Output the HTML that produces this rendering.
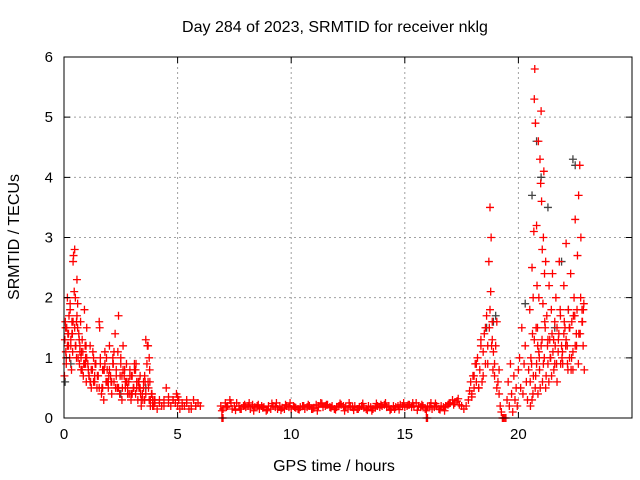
<!DOCTYPE html>
<html><head><meta charset="utf-8"><style>
html,body{margin:0;padding:0;background:#fff}
svg{display:block;font-family:"Liberation Sans",sans-serif}
</style></head><body>
<svg id="chart" width="640" height="480">
<text x="335" y="32" font-size="16" text-anchor="middle">Day 284 of 2023, SRMTID for receiver nklg</text>
<text x="334" y="471" font-size="16" text-anchor="middle">GPS time / hours</text>
<text x="19" y="237" font-size="16" text-anchor="middle" transform="rotate(-90 19 237)">SRMTID / TECUs</text>
<g id="grid"></g><g id="marks"></g>
<rect x="64" y="57" width="568" height="361" fill="none" stroke="#000" stroke-width="1"/>
<g id="ticks"></g>
</svg>
<script>
const xTicks=[0,5,10,15,20];
const yTicks=[0,1,2,3,4,5,6];
const earlyT=[0.02,0.04,0.06,0.08,0.1,0.12,0.15,0.17,0.2,0.22,0.25,0.27,0.3,0.33,0.35,0.38,0.4,0.42,0.45,0.47,0.5,0.52,0.55,0.57,0.6,0.62,0.65,0.68,0.7,0.73,0.75,0.78,0.8,0.83,0.85,0.88,0.9,0.93,0.95,0.98,1.0,1.05,1.1,1.15,1.2,1.25,1.3,1.35,1.4,1.45,1.5,1.55,1.6,1.65,1.7,1.75,1.8,1.85,1.9,1.95,2.0,2.05,2.1,2.15,2.2,2.25,2.3,2.35,2.4,2.45,2.5,2.55,2.6,2.65,2.7,2.75,2.8,2.85,2.9,2.95,3.0,3.05,3.1,3.15,3.2,3.25,3.3,3.35,3.4,3.45,3.5,3.55,3.6,3.65,3.7,3.72,3.75,3.78,3.8,3.85,3.9,3.95,4.0,4.1,4.2,4.3,4.4,4.5,4.6,4.7,4.8,4.9,4.95,5.0,5.05,5.1,5.2,5.3,5.4,5.5,5.6,5.7,5.8,5.9,6.0];
const earlyV=[0.7,1.3,1.6,1.1,0.9,1.5,2.0,1.4,1.2,1.7,1.0,1.9,1.3,0.8,1.6,1.1,2.6,2.7,2.1,1.5,2.0,1.2,1.6,2.3,1.9,1.0,1.4,0.9,1.2,1.6,1.0,0.8,1.3,1.1,0.7,0.9,1.8,1.2,1.0,0.6,1.5,0.9,0.7,1.2,0.5,0.8,1.0,0.6,0.9,0.5,0.7,1.6,0.9,0.4,0.8,0.3,1.1,0.6,0.8,0.5,1.2,0.7,0.4,1.0,0.6,1.4,0.8,0.5,1.7,0.4,0.9,0.3,1.2,0.7,0.5,0.9,0.4,0.6,0.8,0.3,0.7,0.5,0.9,0.4,0.6,0.3,0.5,0.7,0.2,0.4,0.6,0.3,1.3,0.9,1.2,0.5,0.3,0.6,0.2,0.4,0.3,0.2,0.3,0.15,0.25,0.2,0.3,0.5,0.35,0.2,0.3,0.25,0.4,0.2,0.3,0.15,0.25,0.2,0.3,0.15,0.2,0.3,0.2,0.25,0.2];
const early2T=[0.1,0.2,0.3,0.4,0.5,0.6,0.7,0.8,0.9,1.0,1.1,1.2,1.3,1.4,1.5,1.6,1.7,1.8,1.9,2.0,2.1,2.2,2.3,2.4,2.5,2.6,2.7,2.8,2.9,3.0,3.1,3.2,3.3,3.4,3.5,3.6,3.7,3.8,3.9,4.0,4.2,4.4,4.6,4.8,5.0,5.2,5.4,5.6,5.8];
const early2V=[1.0,1.4,1.2,1.6,1.2,1.5,1.1,0.8,0.9,1.0,0.7,0.8,0.6,0.9,0.7,1.0,0.5,0.9,0.6,0.8,0.6,1.1,0.7,0.5,1.0,0.8,0.6,0.5,0.7,0.4,0.8,0.5,0.6,0.3,0.5,0.4,0.6,0.3,0.2,0.25,0.3,0.2,0.25,0.3,0.35,0.2,0.25,0.15,0.2];
const early3T=[0.15,0.35,0.55,0.75,0.95,1.15,1.35,1.55,1.75,1.95,2.15,2.35,2.55,2.75,2.95,3.15,3.35,3.55,3.75];
const early3V=[1.2,1.4,1.0,0.8,0.9,0.6,0.7,0.5,0.8,0.6,0.9,0.5,0.7,0.6,0.4,0.8,0.5,0.7,1.0];
const early4T=[0.07,0.17,0.27,0.37,0.47,0.57,0.67,0.77,0.87,0.97,1.07,1.17,1.27,1.37,1.47,1.57,1.67,1.77,1.87,1.97,2.07,2.17,2.27,2.37,2.47,2.57,2.67,2.77,2.87,2.97,3.07,3.17,3.27,3.37,3.47,3.57,3.67,3.77,3.87,3.97];
const early4V=[1.5,1.2,1.8,1.4,2.8,1.7,1.3,1.1,0.9,1.2,0.8,0.6,1.1,0.9,0.7,1.5,0.5,0.8,1.0,0.7,0.6,0.9,0.5,1.1,0.7,0.5,0.8,0.6,0.4,0.7,0.5,0.9,0.6,0.4,0.3,0.6,1.2,0.8,0.4,0.3];
const quietT=[6.9,7.0,7.1,7.2,7.3,7.4,7.5,7.6,7.7,7.8,7.9,8.0,8.1,8.2,8.3,8.4,8.5,8.6,8.7,8.8,8.9,9.0,9.1,9.2,9.3,9.4,9.5,9.6,9.7,9.8,9.9,10.0,10.1,10.2,10.3,10.4,10.5,10.6,10.7,10.8,10.9,11.0,11.1,11.2,11.3,11.4,11.5,11.6,11.7,11.8,11.9,12.0,12.1,12.2,12.3,12.4,12.5,12.6,12.7,12.8,12.9,13.0,13.1,13.2,13.3,13.4,13.5,13.6,13.7,13.8,13.9,14.0,14.1,14.2,14.3,14.4,14.5,14.6,14.7,14.8,14.9,15.0,15.1,15.2,15.3,15.4,15.5,15.6,15.7,15.8,15.9,16.0,16.1,16.2,16.3,16.4,16.5,16.6,16.7,16.8,16.9,17.0,17.1,17.2,17.3,17.4];
const quietV=[0.2,0.15,0.25,0.2,0.3,0.15,0.2,0.25,0.2,0.15,0.2,0.18,0.2,0.15,0.22,0.18,0.2,0.15,0.2,0.18,0.12,0.2,0.15,0.2,0.18,0.15,0.2,0.17,0.15,0.2,0.18,0.15,0.2,0.17,0.15,0.18,0.2,0.15,0.18,0.2,0.15,0.17,0.22,0.2,0.25,0.18,0.2,0.22,0.18,0.2,0.15,0.18,0.2,0.22,0.2,0.18,0.15,0.2,0.18,0.2,0.15,0.18,0.2,0.17,0.15,0.2,0.18,0.15,0.17,0.2,0.18,0.2,0.22,0.18,0.2,0.15,0.2,0.18,0.2,0.22,0.2,0.18,0.2,0.22,0.18,0.2,0.25,0.2,0.18,0.2,0.15,0.18,0.2,0.15,0.18,0.2,0.15,0.2,0.18,0.2,0.22,0.25,0.3,0.25,0.28,0.22];
const quiet2T=[6.95,7.15,7.35,7.55,7.75,7.95,8.15,8.35,8.55,8.75,8.95,9.15,9.35,9.55,9.75,9.95,10.15,10.35,10.55,10.75,10.95,11.15,11.35,11.55,11.75,11.95,12.15,12.35,12.55,12.75,12.95,13.15,13.35,13.55,13.75,13.95,14.15,14.35,14.55,14.75,14.95,15.15,15.35,15.55,15.75,15.95,16.15,16.35,16.55,16.75,16.95,17.15,17.35];
const quiet2V=[0.12,0.18,0.25,0.13,0.15,0.22,0.25,0.12,0.22,0.17,0.14,0.24,0.25,0.13,0.22,0.25,0.18,0.14,0.2,0.22,0.15,0.12,0.24,0.22,0.17,0.14,0.24,0.12,0.25,0.13,0.15,0.24,0.13,0.12,0.24,0.22,0.25,0.13,0.15,0.14,0.25,0.22,0.25,0.13,0.22,0.12,0.25,0.24,0.14,0.12,0.24,0.22,0.32];
const riseT=[17.5,17.6,17.7,17.8,17.85,17.9,17.95,18.0,18.05,18.1,18.15,18.2,18.25,18.3,18.35,18.4,18.45,18.5,18.55,18.6,18.65,18.7,18.72,18.75,18.78,18.8,18.82,18.85,18.88,18.9,18.95,19.0,19.05,19.1,19.15,19.2,19.25,19.3];
const riseV=[0.2,0.15,0.2,0.3,0.45,0.6,0.35,0.7,0.5,0.9,0.6,1.0,0.5,0.8,1.3,0.6,1.1,1.4,0.9,1.7,1.2,2.6,1.5,3.5,2.1,3.0,1.2,1.6,0.8,1.1,0.7,1.2,0.5,0.6,0.4,0.2,0.1,0.0];
const rise2T=[17.95,18.05,18.15,18.25,18.35,18.45,18.55,18.65,18.75,18.85,18.95,19.05,19.15];
const rise2V=[0.4,0.7,0.9,0.5,1.2,0.7,1.5,0.9,1.8,1.3,0.9,1.6,0.8];
const gapT=[19.5,19.55,19.6,19.65,19.7,19.75,19.8,19.85,19.9,19.95,20.0,20.05,20.1,20.15,20.2,20.25,20.3,20.35,20.4,20.45];
const gapV=[0.3,0.6,0.2,0.9,0.4,0.1,0.7,0.3,0.5,0.2,0.8,1.0,0.5,1.5,0.4,0.9,1.2,0.6,0.3,0.8];
const stormT=[20.5,20.55,20.6,20.62,20.65,20.68,20.7,20.72,20.75,20.78,20.8,20.82,20.85,20.88,20.9,20.92,20.95,20.98,21.0,21.02,21.05,21.08,21.1,21.12,21.15,21.18,21.2,21.25,21.3,21.35,21.4,21.45,21.5,21.55,21.6,21.65,21.7,21.75,21.8,21.85,21.9,21.95,22.0,22.05,22.1,22.15,22.2,22.25,22.3,22.35,22.4,22.45,22.5,22.55,22.6,22.65,22.7,22.75,22.8,22.85,22.9];
const stormV=[1.8,1.0,2.5,1.4,2.0,3.1,5.3,5.8,4.9,1.5,3.2,2.2,1.2,4.6,2.0,1.0,4.3,3.9,5.1,3.6,2.8,1.9,3.0,4.1,2.4,1.5,2.6,1.7,1.3,2.2,1.0,1.8,2.4,1.3,0.9,2.0,1.5,1.1,2.6,1.7,1.2,0.9,2.2,1.5,2.9,1.2,1.8,1.0,2.4,1.6,0.8,2.0,3.3,1.4,2.7,3.7,4.2,3.0,1.8,1.2,0.8];
const storm2T=[20.52,20.58,20.64,20.7,20.76,20.84,20.9,20.96,21.04,21.1,21.16,21.22,21.28,21.34,21.42,21.48,21.56,21.62,21.7,21.78,21.86,21.94,22.02,22.1,22.18,22.26,22.34,22.42,22.5,22.58,22.66,22.74,22.82,22.88];
const storm2V=[0.6,0.9,0.4,1.3,0.7,1.5,1.1,0.5,1.3,0.9,1.6,0.7,1.2,0.6,1.0,1.4,0.8,1.2,0.6,1.4,0.9,1.1,1.6,1.3,0.8,1.5,1.0,1.7,1.2,1.8,1.4,2.0,1.6,1.9];
const storm3T=[20.53,20.6,20.66,20.74,20.8,20.86,20.93,21.0,21.06,21.14,21.2,21.3,21.38,21.46,21.52,21.6,21.68,21.76,21.84,21.92,22.0,22.08,22.16,22.24,22.32,22.4,22.48,22.56,22.64,22.72,22.8,22.86];
const storm3V=[0.2,0.3,0.7,0.5,0.9,0.4,0.8,1.2,0.6,1.0,0.5,0.9,1.3,0.7,1.1,1.6,0.9,1.3,1.8,1.0,1.4,1.2,0.9,1.5,0.8,1.1,1.7,1.2,0.9,1.4,1.6,1.8];
const zeroT=[6.95,7.0,15.95,16.0,19.3,19.35,19.4,19.45];
const zeroV=[0,0,0,0,0,0,0,0];
const grayT=[0.05,0.3,2.5,3.6,18.6,18.9,19.0,20.3,20.6,20.8,21.0,21.3,21.6,21.9,22.2,22.4,22.5];
const grayV=[0.6,0.9,0.4,0.5,1.5,1.6,1.7,1.9,3.7,4.6,4.0,3.5,1.5,2.6,1.8,4.3,4.2];
const redSeries=[[earlyT,earlyV],[early2T,early2V],[early3T,early3V],[early4T,early4V],[quietT,quietV],[quiet2T,quiet2V],[riseT,riseV],[rise2T,rise2V],[gapT,gapV],[stormT,stormV],[storm2T,storm2V],[storm3T,storm3V],[zeroT,zeroV]];
const X0=64,X1=632,Y0=418,Y1=57,XMAX=25,YMAX=6;
const sx=v=>X0+(X1-X0)*v/XMAX, sy=v=>Y0-(Y0-Y1)*v/YMAX;
const NS='http://www.w3.org/2000/svg';
const grid=document.getElementById('grid'),ticks=document.getElementById('ticks'),marks=document.getElementById('marks');
function mk(tag,attrs,parent){const e=document.createElementNS(NS,tag);for(const k in attrs)e.setAttribute(k,attrs[k]);parent.appendChild(e);return e;}
xTicks.forEach(t=>{const x=sx(t);
 if(t>0){const g=mk('line',{x1:x,x2:x,y1:Y1,y2:Y0,stroke:'#a0a0a0','stroke-dasharray':'2,3'},grid);
 
 }
 const tk=mk('path',{d:`M${x},${Y0}v-6M${x},${Y1}v6`,stroke:'#000'},ticks);
 
 
 const l=mk('text',{x:x,y:Y0+21,'font-size':15,'text-anchor':'middle'},ticks);l.textContent=t;
 
 
});
yTicks.forEach(t=>{const y=sy(t);
 if(t>0&&t<6){const g=mk('line',{x1:X0,x2:X1,y1:y,y2:y,stroke:'#a0a0a0','stroke-dasharray':'2,3'},grid);
 
 }
 const tk=mk('path',{d:`M${X0},${y}h6M${X1},${y}h-6`,stroke:'#000'},ticks);
 
 
 const l=mk('text',{x:X0-11,y:y+5,'font-size':15,'text-anchor':'end'},ticks);l.textContent=t;
 
 
});
function plus(t,v,color,name){const x=sx(t),y=Math.max(Y1,Math.min(Y0,sy(v)));
 const p=mk('path',{d:`M${x-4},${y}h8M${x},${y-4}v8`,stroke:color,'stroke-width':1.3,fill:'none'},marks);
 
 }
grayT.forEach((t,i)=>plus(t,grayV[i],'#444','gray-point'));
redSeries.forEach(([ts,vs])=>{const n=Math.min(ts.length,vs.length);for(let i=0;i<n;i++)plus(ts[i],vs[i],'#ff0000','srmtid-point');});
</script>
</body></html>
